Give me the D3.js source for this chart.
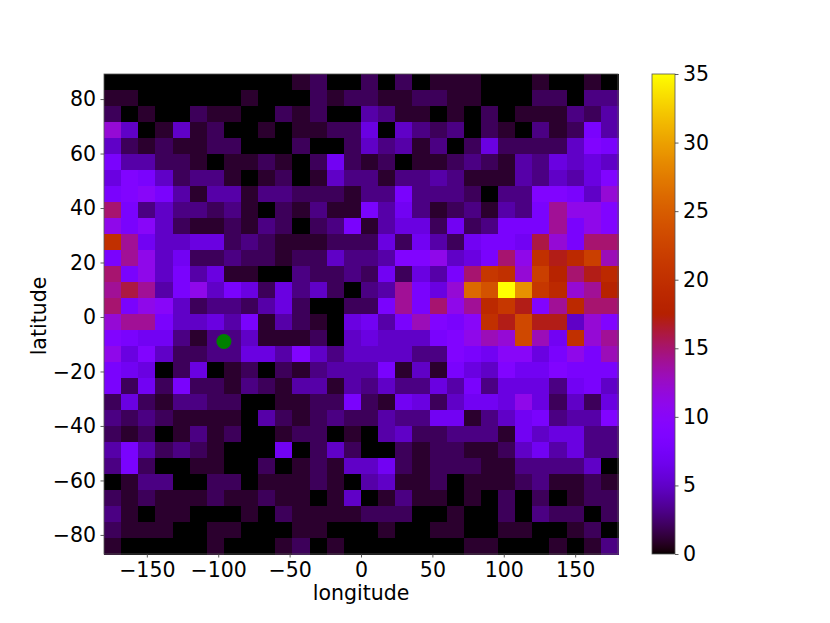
<!DOCTYPE html>
<html><head><meta charset="utf-8">
<script src="https://cdn.jsdelivr.net/npm/d3@7"></script>
<style>html,body{margin:0;padding:0;background:#fff}svg{display:block}
text{font-family:"DejaVu Sans",sans-serif;fill:#000}</style></head>
<body><svg id="c" width="830" height="623"></svg>
<script>
// Counts per grid cell, top row (north) first, west to east.
const counts = [
[0,0,0,0,0,0,0,0,0,0,0,1,2,0,0,2,0,2,0,1,1,1,0,0,0,1,0,0,1,0],
[1,1,0,0,0,0,0,0,1,0,0,0,2,1,2,2,1,1,2,2,1,1,0,0,0,2,2,0,3,3],
[2,0,1,0,0,2,1,1,0,0,2,1,2,0,0,4,3,1,1,0,1,0,2,0,1,1,1,3,2,4],
[12,5,0,1,5,1,2,0,0,1,0,1,1,2,2,6,0,5,3,2,3,0,2,1,0,3,1,2,8,4],
[5,2,1,2,1,1,2,2,0,0,0,2,0,0,2,5,3,4,1,3,0,2,6,2,2,2,2,5,9,8],
[8,4,4,2,2,1,0,1,1,2,1,0,2,7,2,1,2,0,1,1,2,3,2,1,4,3,6,5,6,5],
[6,9,8,5,2,3,3,1,0,1,2,0,1,5,3,3,1,3,3,4,3,1,1,1,4,3,5,4,6,9],
[8,9,10,8,4,1,4,4,1,3,3,2,2,2,1,3,3,8,3,3,3,2,0,3,3,9,9,8,5,12],
[15,8,3,5,3,3,2,3,1,0,2,1,3,1,1,8,4,7,3,1,2,3,1,4,3,8,14,11,11,9],
[11,8,10,5,2,1,1,2,1,3,2,0,2,3,8,1,4,6,6,2,7,2,3,8,8,8,14,8,11,9],
[20,14,7,5,5,6,6,2,3,2,1,1,1,2,2,2,6,2,7,4,2,7,8,8,7,16,12,8,15,15],
[8,14,11,5,7,2,2,3,2,2,1,2,2,5,3,3,4,9,9,11,5,6,8,15,11,20,17,19,22,13],
[15,8,11,5,8,4,6,1,1,0,0,3,2,2,3,2,7,2,6,4,8,15,21,20,12,22,18,15,17,19],
[14,16,14,4,8,11,5,8,6,2,6,3,5,2,0,3,4,14,8,6,12,26,24,35,29,21,19,12,14,18],
[15,8,11,10,5,2,3,3,2,4,6,2,0,0,2,2,8,14,8,15,11,14,19,21,17,9,14,19,15,15],
[12,14,14,8,5,5,6,4,8,1,4,2,1,0,6,7,4,8,13,9,8,10,20,17,23,17,17,5,12,9],
[9,8,7,7,3,1,3,3,5,1,1,1,2,0,5,6,5,5,5,8,9,11,13,12,23,13,7,20,12,14],
[11,6,9,5,2,2,3,3,6,6,4,9,5,3,5,5,5,5,3,3,9,8,7,10,10,6,8,11,8,13],
[8,7,6,0,2,6,0,1,2,0,2,1,3,4,4,4,8,1,5,1,8,6,5,9,7,7,9,8,8,8],
[8,2,7,2,8,2,2,1,3,2,1,4,4,1,4,3,5,3,3,6,4,8,3,6,6,6,3,7,8,5],
[2,6,2,1,3,3,2,2,0,0,1,1,2,2,8,2,1,7,6,2,5,7,7,6,11,6,2,5,2,6],
[3,2,3,2,1,1,1,1,0,4,2,1,2,3,2,2,4,3,3,7,7,1,3,5,7,8,3,4,4,9],
[2,1,2,0,1,3,1,2,0,0,1,2,2,0,1,0,4,5,2,2,3,3,3,1,7,5,6,6,3,3],
[4,8,4,2,3,2,1,0,0,0,7,0,2,5,2,0,0,2,1,2,2,1,1,2,5,7,4,6,3,3],
[3,8,2,0,0,1,1,0,0,2,0,1,2,1,5,5,7,2,1,2,2,2,1,1,3,3,3,3,5,0],
[0,1,3,3,0,0,2,2,0,1,1,1,2,1,0,4,5,1,1,2,0,1,1,1,2,3,1,1,2,1],
[2,1,2,1,1,1,2,1,1,2,1,1,0,1,5,0,1,3,1,1,0,1,0,2,0,2,0,1,2,2],
[3,1,0,1,1,0,0,0,1,0,2,1,1,1,1,2,2,2,0,0,1,0,0,2,0,3,2,2,0,2],
[2,1,1,1,0,0,1,1,0,0,0,1,1,0,0,0,1,0,0,1,1,0,0,1,1,0,0,1,2,0],
[1,0,0,0,0,0,1,0,0,0,1,2,0,1,0,0,0,0,0,0,0,1,1,0,0,0,1,0,1,3]
];
const lonExtent = [-180, 180];
const latExtent = [-87, 89.2];
const lonTicks = [-150,-100,-50,0,50,100,150];
const latTicks = [-80,-60,-40,-20,0,20,40,60,80];
const cbarTicks = [0,5,10,15,20,25,30,35];
const cbarExtent = [0,35];
const marker = {lon:-96, lat:-9};

const L=104,R=618,T=74,B=554, CL=652,CR=675;
const x=d3.scaleLinear().domain(lonExtent).range([L,R]);
const y=d3.scaleLinear().domain(latExtent).range([B,T]);
const cy=d3.scaleLinear().domain(cbarExtent).range([B,T]);
// matplotlib "gnuplot" colormap
const gnuplot=t=>{t=Math.max(0,Math.min(1,t));
  const r=Math.sqrt(t),g=t*t*t,b=Math.max(0,Math.sin(2*Math.PI*t));
  return d3.rgb(r*255,g*255,b*255).formatHex();};
const color=v=>gnuplot(v/35);
const fmt=d=>String(d).replace('-','\u2212');

const svg=d3.select('#c');
const nr=counts.length,nc=counts[0].length;
const dLon=(lonExtent[1]-lonExtent[0])/nc, dLat=(latExtent[1]-latExtent[0])/nr;
const cells=counts.flatMap((row,r)=>row.map((v,c)=>({r,c,v})));
svg.append('g').attr('shape-rendering','crispEdges').selectAll('rect').data(cells).join('rect')
  .attr('x',d=>x(lonExtent[0]+d.c*dLon))
  .attr('y',d=>y(latExtent[1]-d.r*dLat))
  .attr('width',d=>x(lonExtent[0]+(d.c+1)*dLon)-x(lonExtent[0]+d.c*dLon)+0.5)
  .attr('height',d=>y(latExtent[1]-(d.r+1)*dLat)-y(latExtent[1]-d.r*dLat)+0.5)
  .attr('fill',d=>color(d.v));

svg.append('circle').attr('cx',x(marker.lon)).attr('cy',y(marker.lat)).attr('r',7.5).attr('fill','#008000');

const styleAxis=g=>{g.selectAll('text').style('font-size','20.5px').attr('fill','#000');
  g.selectAll('line').attr('stroke','#333').attr('stroke-width',0.8);
  g.select('.domain').remove();};
svg.append('g').attr('transform',`translate(0,${B})`)
  .call(d3.axisBottom(x).tickValues(lonTicks).tickFormat(fmt).tickSize(3.5).tickPadding(5)).call(styleAxis);
svg.append('g').attr('transform',`translate(${L},0)`)
  .call(d3.axisLeft(y).tickValues(latTicks).tickFormat(fmt).tickSize(3.5).tickPadding(4.5)).call(styleAxis);
svg.append('rect').attr('x',L).attr('y',T).attr('width',R-L).attr('height',B-T)
  .attr('fill','none').attr('stroke','#555').attr('stroke-width',0.8);

// colour bar
const grad=svg.append('defs').append('linearGradient').attr('id','cb').attr('x1',0).attr('x2',0).attr('y1',1).attr('y2',0);
grad.selectAll('stop').data(d3.range(256)).join('stop')
  .attr('offset',d=>d/255).attr('stop-color',d=>gnuplot(d/255));
svg.append('rect').attr('x',CL).attr('y',T).attr('width',CR-CL).attr('height',B-T)
  .attr('fill','url(#cb)').attr('stroke','#555').attr('stroke-width',0.8);
svg.append('g').attr('transform',`translate(${CR},0)`)
  .call(d3.axisRight(cy).tickValues(cbarTicks).tickSize(3.5).tickPadding(4.5)).call(styleAxis);

svg.append('text').attr('x',361).attr('y',600).attr('text-anchor','middle').style('font-size','20.5px').text('longitude');
svg.append('text').attr('transform',`translate(46,316) rotate(-90)`).attr('text-anchor','middle').style('font-size','20.5px').text('latitude');
</script></body></html>
